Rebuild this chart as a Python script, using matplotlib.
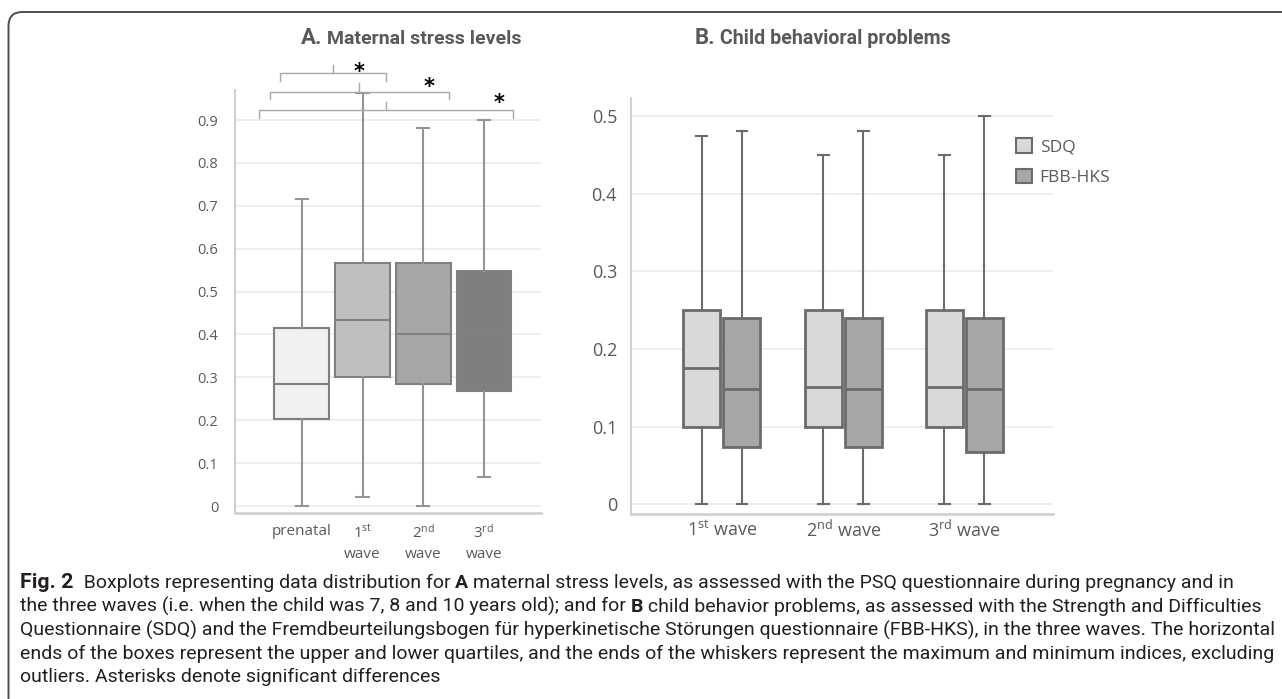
import matplotlib
matplotlib.use("Agg")
import matplotlib.pyplot as plt
from matplotlib.patches import FancyBboxPatch, Patch
from matplotlib.transforms import IdentityTransform

plt.rcParams['font.family'] = ['Open Sans', 'DejaVu Sans']
plt.rcParams['mathtext.fontset'] = 'custom'
plt.rcParams['mathtext.rm'] = 'Open Sans'
plt.rcParams['mathtext.it'] = 'Open Sans:italic'
plt.rcParams['mathtext.bf'] = 'Open Sans:bold'

# ---- panel A: maternal stress levels (PSQ)
a_labels = ['prenatal', '1$^{\\mathrm{st}}$\nwave', '2$^{\\mathrm{nd}}$\nwave', '3$^{\\mathrm{rd}}$\nwave']
a_min = [0.0, 0.02, 0.0, 0.068]
a_q1 = [0.202, 0.301, 0.285, 0.267]
a_med = [0.284, 0.433, 0.400, 0.400]
a_q3 = [0.415, 0.566, 0.566, 0.549]
a_max = [0.716, 0.964, 0.881, 0.899]
a_colors = ['#f0f0f0', '#bfbfbf', '#a6a6a6', '#7f7f7f']
a_ticks = [0, 0.1, 0.2, 0.3, 0.4, 0.5, 0.6, 0.7, 0.8, 0.9]
# significant comparisons (group index pairs)
a_pairs = [(0, 1), (0, 2), (0, 3)]

# ---- panel B: child behavioral problems
b_labels = ['1$^{\\mathrm{st}}$ wave', '2$^{\\mathrm{nd}}$ wave', '3$^{\\mathrm{rd}}$ wave']
sdq_min = [0.0, 0.0, 0.0]
sdq_q1 = [0.10, 0.10, 0.10]
sdq_med = [0.176, 0.151, 0.151]
sdq_q3 = [0.25, 0.25, 0.25]
sdq_max = [0.474, 0.45, 0.45]
fbb_min = [0.0, 0.0, 0.0]
fbb_q1 = [0.074, 0.074, 0.067]
fbb_med = [0.148, 0.148, 0.148]
fbb_q3 = [0.24, 0.24, 0.24]
fbb_max = [0.481, 0.481, 0.50]
b_ticks = [0, 0.1, 0.2, 0.3, 0.4, 0.5]
b_series = ['SDQ', 'FBB-HKS']
b_colors = ['#d9d9d9', '#a6a6a6']

TXT = '#595959'
GRID = '#ebebeb'
SPINE = '#d0d0d0'


def make_stats(lo, q1, med, q3, hi):
    return [dict(whislo=a, q1=b, med=c, q3=d, whishi=e, fliers=[])
            for a, b, c, d, e in zip(lo, q1, med, q3, hi)]


def style_axis(ax):
    ax.set_axisbelow(True)
    ax.grid(axis='y', color=GRID, lw=1.2)
    for s in ['top', 'right']:
        ax.spines[s].set_visible(False)
    ax.spines['left'].set_color(SPINE)
    ax.spines['left'].set_linewidth(1.5)
    ax.spines['bottom'].set_color(SPINE)
    ax.spines['bottom'].set_linewidth(2)
    ax.tick_params(length=0, colors=TXT)


fig = plt.figure(figsize=(12.82, 6.99), dpi=100)

# ---------------- A
axA = fig.add_axes([235 / 1282, 1 - 513 / 699, 306 / 1282, 423 / 699])
style_axis(axA)
bpA = axA.bxp(make_stats(a_min, a_q1, a_med, a_q3, a_max), positions=range(4),
              widths=0.9, capwidths=0.2, showfliers=False, patch_artist=True,
              boxprops=dict(edgecolor='#808080', lw=1.5),
              whiskerprops=dict(color='#949494', lw=1.5),
              capprops=dict(color='#949494', lw=1.5),
              medianprops=dict(color='#808080', lw=1.5))
for patch, c in zip(bpA['boxes'], a_colors):
    patch.set_facecolor(c)
axA.set_xlim(-1.1, 3.94)
axA.set_ylim(-0.0163, 0.970)
axA.set_yticks(a_ticks)
axA.set_yticklabels(['0' if t == 0 else f'{t:.1f}' for t in a_ticks], fontsize=10.5)
axA.tick_params(axis='y', pad=12)
axA.set_xticks(range(4))
axA.set_xticklabels(a_labels, fontsize=11, va='top', linespacing=1.45)
axA.tick_params(axis='x', pad=8)

# significance brackets
for lvl, (a, b) in enumerate(a_pairs):
    left = a - 0.36 - 0.17 * lvl
    right = b + 0.38 + 0.05 * lvl
    mid = (left + right) / 2
    yh = 1.009 - 0.043 * lvl
    axA.plot([left, left, right, right], [yh - 0.018, yh, yh, yh - 0.018],
             color='#a8a8a8', lw=1, clip_on=False)
    axA.plot([mid, mid], [yh, yh + 0.02], color='#a8a8a8', lw=1, clip_on=False)
    axA.text(b - 0.05 + 0.15 * lvl, yh - 0.01 + 0.006 * lvl, '*', ha='center', va='baseline',
             fontsize=15, fontweight='bold', color='black', family='DejaVu Sans')

# ---------------- B
axB = fig.add_axes([631 / 1282, 1 - 514 / 699, 422 / 1282, 416 / 699])
style_axis(axB)
groups = range(len(b_labels))
b_stats = [make_stats(sdq_min, sdq_q1, sdq_med, sdq_q3, sdq_max),
           make_stats(fbb_min, fbb_q1, fbb_med, fbb_q3, fbb_max)]
for k, (st, col) in enumerate(zip(b_stats, b_colors)):
    off = -0.165 if k == 0 else 0.165
    bp = axB.bxp(st, positions=[g + off for g in groups], widths=0.305,
                 capwidths=0.09, showfliers=False, patch_artist=True,
                 boxprops=dict(edgecolor='#6b6b6b', lw=2, facecolor=col),
                 whiskerprops=dict(color='#6b6b6b', lw=1.5),
                 capprops=dict(color='#6b6b6b', lw=1.5),
                 medianprops=dict(color='#6b6b6b', lw=2))
axB.set_xlim(-0.75, 2.73)
axB.set_ylim(-0.0125, 0.523)
axB.set_yticks(b_ticks)
axB.set_yticklabels(['0' if t == 0 else f'{t:.1f}' for t in b_ticks], fontsize=13)
axB.tick_params(axis='y', pad=10)
axB.set_xticks(list(groups))
axB.set_xticklabels(b_labels, fontsize=13)
axB.tick_params(axis='x', pad=4)
handles = [Patch(facecolor=c, edgecolor='#6b6b6b', lw=1.5) for c in b_colors]
axB.legend(handles, b_series, loc='upper left', bbox_to_anchor=(0.913, 0.903),
           frameon=False, fontsize=12.5, handlelength=0.9, handleheight=0.9,
           handletextpad=0.45, labelspacing=0.75, labelcolor=TXT,
           borderpad=0, borderaxespad=0)

# ---------------- titles and caption
bg = fig.add_axes([0, 0, 1, 1])
bg.axis('off')
bg.set_xlim(0, 1)
bg.set_ylim(0, 1)


def chain(x, y_px, parts, size, family):
    y = 1 - y_px / 699
    prev = None
    out = []
    for s, weight, sz, col in parts:
        kw = dict(fontsize=sz or size, fontweight=weight,
                  color=col, family=family, va='baseline', ha='left')
        if prev is None:
            prev = bg.text(x / 1282, y, s, **kw)
        else:
            prev = bg.annotate(s, xy=(1, y), xycoords=(prev, 'axes fraction'), **kw)
        out.append(prev)
    return out


def fit_size(s, width_px, family, weight='normal'):
    probe = bg.text(0, 0, s, fontsize=12, family=family, fontweight=weight)
    fig.canvas.draw()
    w = probe.get_window_extent().width
    probe.remove()
    return 12 * width_px / w


title_font = ['Roboto', 'DejaVu Sans']
tA = fit_size('Maternal stress levels', 193, title_font, 'bold')
tB = fit_size('Child behavioral problems', 229, title_font, 'bold')
chain(301, 43.5, [('A.', 'bold', 16, TXT), (' Maternal stress levels', 'bold', tA, TXT)], tA, title_font)
chain(695, 44, [('B.', 'bold', 16, TXT), (' Child behavioral problems', 'bold', tB, TXT)], tB, title_font)

cap_font = ['Roboto', 'DejaVu Sans']
K = '#231f20'
cap_lines = [
    [('Fig. 2', 'bold', 1.1, K),
     ('  Boxplots representing data distribution for ', 'normal', None, K),
     ('A', 'bold', None, K),
     (' maternal stress levels, as assessed with the PSQ questionnaire during pregnancy and in', 'normal', None, K)],
    [('the three waves (i.e. when the child was 7, 8 and 10 years old); and for ', 'normal', None, K),
     ('B', 'bold', None, K),
     (' child behavior problems, as assessed with the Strength and Difficulties', 'normal', None, K)],
    [('Questionnaire (SDQ) and the Fremdbeurteilungsbogen für hyperkinetische Störungen questionnaire (FBB-HKS), in the three waves. The horizontal', 'normal', None, K)],
    [('ends of the boxes represent the upper and lower quartiles, and the ends of the whiskers represent the maximum and minimum indices, excluding', 'normal', None, K)],
    [('outliers. Asterisks denote significant differences', 'normal', None, K)],
]
cap_base = [588, 612, 635.5, 659, 682.5]

# fit the caption font size so the longest line spans the same width as in the figure
cap = fit_size(cap_lines[3][0][0], 1242, cap_font)

for parts, yb in zip(cap_lines, cap_base):
    parts = [(s, w, (sz * cap if sz else None), c) for s, w, sz, c in parts]
    chain(20, yb, parts, cap, cap_font)

# rounded frame around the figure (open to the right and bottom)
frame = FancyBboxPatch((8.5, -60), 1400, 699 - 12 + 60, boxstyle='round,pad=0,rounding_size=14',
                       transform=IdentityTransform(), fill=False, ec='#4d4d4d', lw=1.4)
fig.patches.append(frame)

fig.savefig('out.png', dpi=100)
